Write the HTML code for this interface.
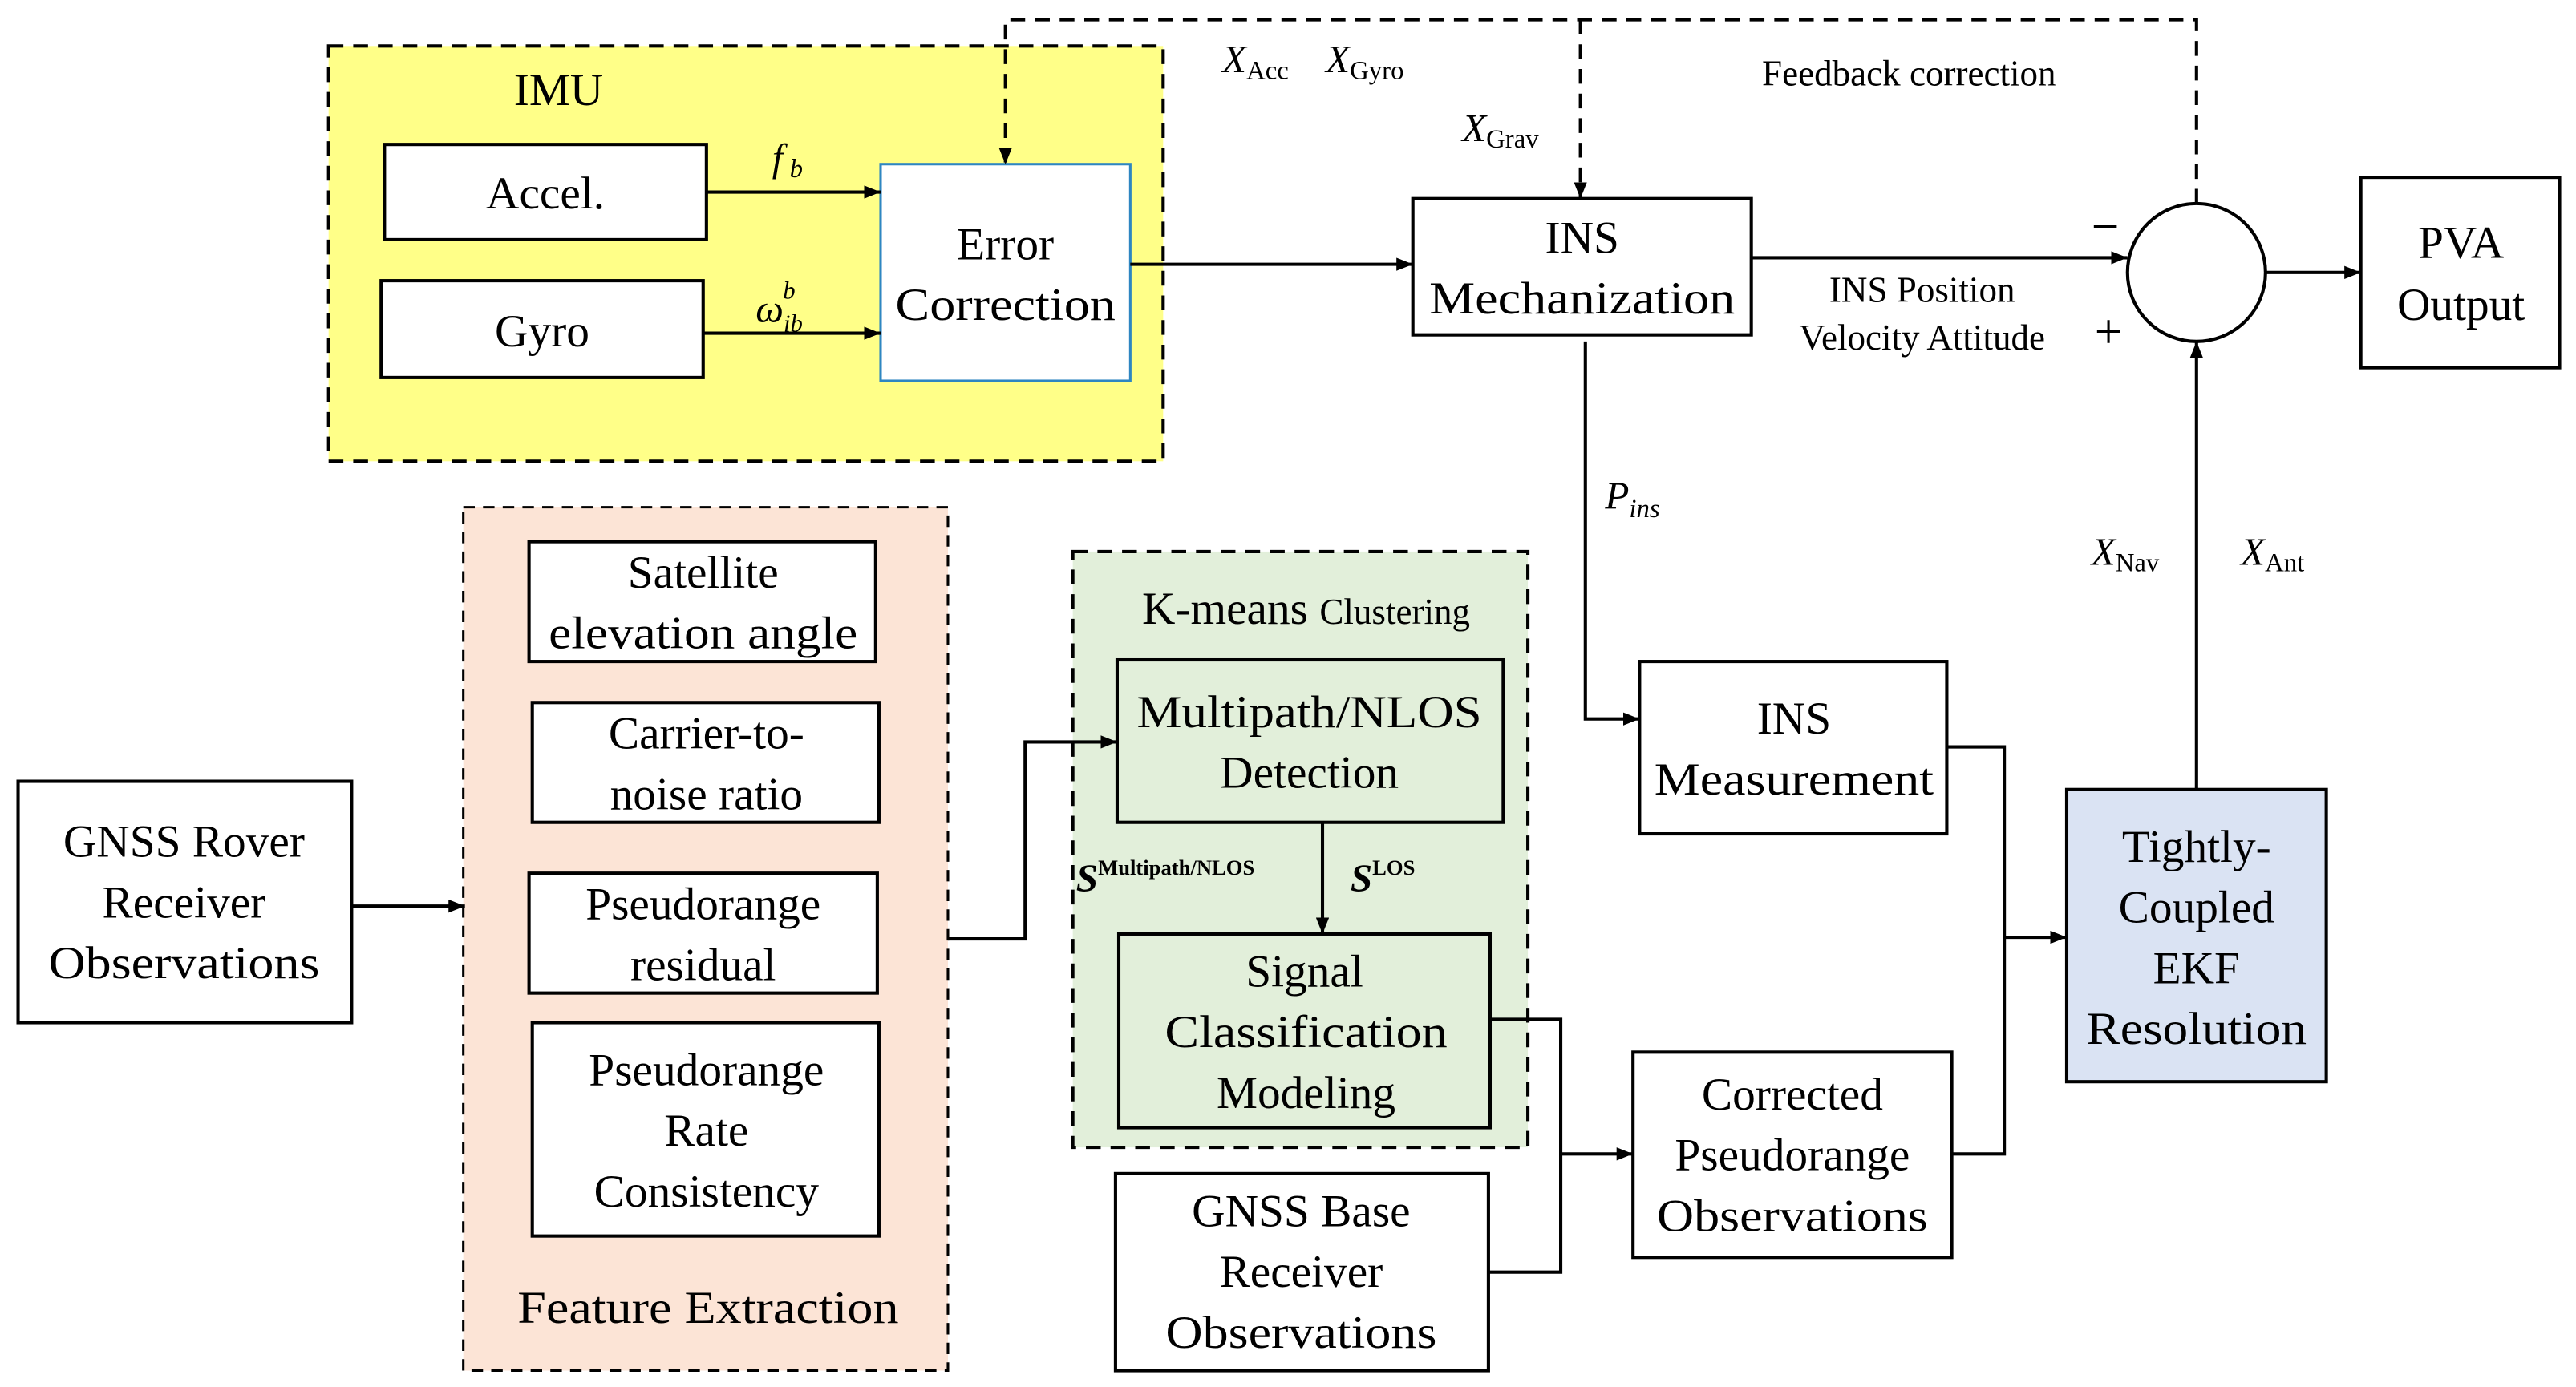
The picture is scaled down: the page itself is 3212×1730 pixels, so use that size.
<!DOCTYPE html>
<html><head><meta charset="utf-8"><style>html,body{margin:0;padding:0;background:#fff}svg{display:block}svg text{font-family:"Liberation Serif",serif}</style></head>
<body>
<svg width="3212" height="1730" viewBox="0 0 1568 845" preserveAspectRatio="none" xmlns="http://www.w3.org/2000/svg" style="font-family:'Liberation Serif',serif" fill="#000">
<defs>
<marker id="a" markerWidth="10" markerHeight="8" refX="10" refY="4" orient="auto" markerUnits="userSpaceOnUse"><path d="M0,0L10,4L0,8z" fill="#000"/></marker>
</defs>
<g stroke="#000" stroke-width="2" fill="none">
<rect x="200" y="28" width="508" height="253" fill="#ffff88" stroke-dasharray="9,6"/>
<rect x="282" y="309" width="295" height="526" fill="#fce4d6" stroke-dasharray="7,5" stroke-width="1.5"/>
<rect x="653" y="336" width="277" height="363" fill="#e2efda" stroke-dasharray="9,6"/>
<rect x="234" y="88" width="196" height="58" fill="#fff"/>
<rect x="232" y="171" width="196" height="59" fill="#fff"/>
<rect x="536" y="100" width="152" height="132" fill="#fff" stroke="#2e86c1" stroke-width="1.5"/>
<rect x="860" y="121" width="206" height="83" fill="#fff"/>
<circle cx="1337" cy="166" r="42" fill="#fff"/>
<rect x="1437" y="108" width="121" height="116" fill="#fff"/>
<rect x="998" y="403" width="187" height="105" fill="#fff"/>
<rect x="1258" y="481" width="158" height="178" fill="#dae3f3"/>
<rect x="11" y="476" width="203" height="147" fill="#fff"/>
<rect x="322" y="330" width="211" height="73" fill="#fff"/>
<rect x="324" y="428" width="211" height="73" fill="#fff"/>
<rect x="322" y="532" width="212" height="73" fill="#fff"/>
<rect x="324" y="623" width="211" height="130" fill="#fff"/>
<rect x="680" y="402" width="235" height="99" fill="#e2efda"/>
<rect x="681" y="569" width="226" height="118" fill="#e2efda"/>
<rect x="679" y="715" width="227" height="120" fill="#fff"/>
<rect x="994" y="641" width="194" height="125" fill="#fff"/>
<line x1="430" y1="117" x2="536" y2="117" marker-end="url(#a)"/>
<line x1="428" y1="203" x2="536" y2="203" marker-end="url(#a)"/>
<line x1="688" y1="161" x2="860" y2="161" marker-end="url(#a)"/>
<polyline points="1337,124 1337,12 612,12 612,100" stroke-dasharray="9,6" marker-end="url(#a)"/>
<line x1="962" y1="12" x2="962" y2="121" stroke-dasharray="9,6" marker-end="url(#a)"/>
<line x1="1066" y1="157" x2="1295" y2="157" marker-end="url(#a)"/>
<line x1="1379" y1="166" x2="1437" y2="166" marker-end="url(#a)"/>
<polyline points="965,208 965,438 998,438" marker-end="url(#a)"/>
<polyline points="1185,455 1220,455 1220,703 1188,703"/>
<line x1="1220" y1="571" x2="1258" y2="571" marker-end="url(#a)"/>
<line x1="1337" y1="481" x2="1337" y2="208" marker-end="url(#a)"/>
<line x1="214" y1="552" x2="283" y2="552" marker-end="url(#a)"/>
<polyline points="577,572 624,572 624,452 680,452" marker-end="url(#a)"/>
<line x1="805" y1="501" x2="805" y2="569" marker-end="url(#a)"/>
<polyline points="907,621 950,621 950,775 906,775"/>
<line x1="950" y1="703" x2="994" y2="703" marker-end="url(#a)"/>
</g>
<g font-size="28" text-anchor="middle">
<text x="340" y="64">IMU</text>
<text x="332" y="127">Accel.</text>
<text x="330" y="211">Gyro</text>
<text x="612" y="158">Error</text>
<text x="612" y="195" textLength="134" lengthAdjust="spacingAndGlyphs">Correction</text>
<text x="963" y="154">INS</text>
<text x="963" y="191" textLength="186" lengthAdjust="spacingAndGlyphs">Mechanization</text>
<text x="1498" y="157">PVA</text>
<text x="1498" y="195">Output</text>
<text x="1092" y="447">INS</text>
<text x="1092" y="484" textLength="170" lengthAdjust="spacingAndGlyphs">Measurement</text>
<text x="1337" y="525">Tightly-</text>
<text x="1337" y="562">Coupled</text>
<text x="1337" y="599">EKF</text>
<text x="1337" y="636" textLength="134" lengthAdjust="spacingAndGlyphs">Resolution</text>
<text x="112" y="522">GNSS Rover</text>
<text x="112" y="559">Receiver</text>
<text x="112" y="596" textLength="165" lengthAdjust="spacingAndGlyphs">Observations</text>
<text x="428" y="358">Satellite</text>
<text x="428" y="395" textLength="188" lengthAdjust="spacingAndGlyphs">elevation angle</text>
<text x="430" y="456">Carrier-to-</text>
<text x="430" y="493">noise ratio</text>
<text x="428" y="560">Pseudorange</text>
<text x="428" y="597">residual</text>
<text x="430" y="661">Pseudorange</text>
<text x="430" y="698">Rate</text>
<text x="430" y="735">Consistency</text>
<text x="431" y="806" textLength="232" lengthAdjust="spacingAndGlyphs">Feature Extraction</text>
<text x="795" y="380"><tspan>K-means </tspan><tspan font-size="22">Clustering</tspan></text>
<text x="797" y="443" textLength="210" lengthAdjust="spacingAndGlyphs">Multipath/NLOS</text>
<text x="797" y="480">Detection</text>
<text x="794" y="601">Signal</text>
<text x="795" y="638" textLength="172" lengthAdjust="spacingAndGlyphs">Classification</text>
<text x="795" y="675">Modeling</text>
<text x="792" y="747">GNSS Base</text>
<text x="792" y="784">Receiver</text>
<text x="792" y="821" textLength="165" lengthAdjust="spacingAndGlyphs">Observations</text>
<text x="1091" y="676">Corrected</text>
<text x="1091" y="713">Pseudorange</text>
<text x="1091" y="750" textLength="165" lengthAdjust="spacingAndGlyphs">Observations</text>
</g>
<g font-size="22">
<text x="1162" y="52" text-anchor="middle">Feedback correction</text>
<text x="1170" y="184" text-anchor="middle">INS Position</text>
<text x="1170" y="213" text-anchor="middle">Velocity Attitude</text>
<text x="1273" y="148" font-size="30">−</text>
<text x="1275" y="212" font-size="30">+</text>
<text x="744" y="44" font-style="italic" font-size="24">X<tspan font-style="normal" font-size="16" dy="4">Acc</tspan></text>
<text x="807" y="44" font-style="italic" font-size="24">X<tspan font-style="normal" font-size="16" dy="4">Gyro</tspan></text>
<text x="890" y="86" font-style="italic" font-size="24">X<tspan font-style="normal" font-size="16" dy="4">Grav</tspan></text>
<text x="1273" y="344" font-style="italic" font-size="24">X<tspan font-style="normal" font-size="16" dy="4">Nav</tspan></text>
<text x="1364" y="344" font-style="italic" font-size="24">X<tspan font-style="normal" font-size="16" dy="4">Ant</tspan></text>
<text x="977" y="310" font-style="italic" font-size="24">P<tspan font-size="16" dy="5">ins</tspan></text>
<text x="470" y="104" font-style="italic" font-size="24">f<tspan font-size="16" dy="4"> b</tspan></text>
<text x="460" y="196" font-style="italic" font-size="24">ω<tspan font-size="15" dy="6">ib</tspan><tspan font-size="15" dx="-12" dy="-20">b</tspan></text>
<text x="655" y="543" font-style="italic" font-weight="bold" font-size="24">S<tspan font-size="13" font-style="normal" dy="-10">Multipath/NLOS</tspan></text>
<text x="822" y="543" font-style="italic" font-weight="bold" font-size="24">S<tspan font-size="13" font-style="normal" dy="-10">LOS</tspan></text>
</g>
</svg>
</body></html>
